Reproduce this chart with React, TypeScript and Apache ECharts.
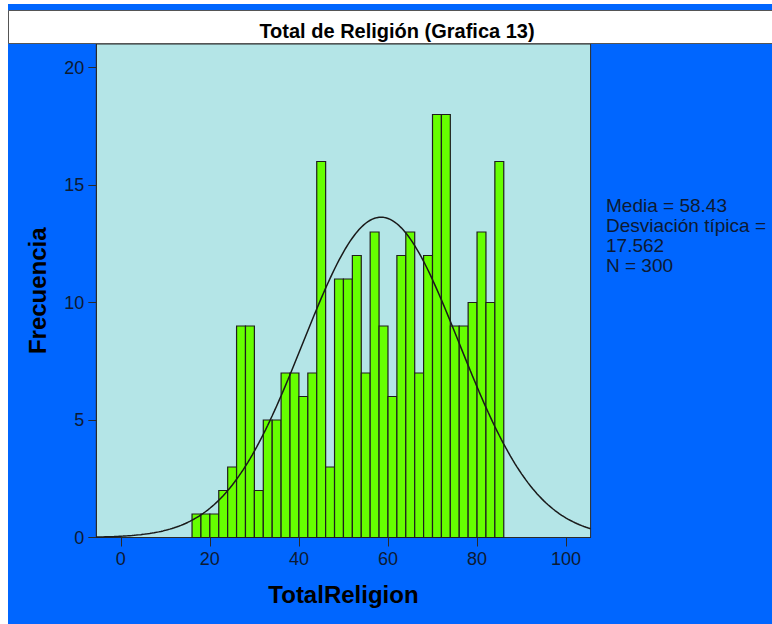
import React, { useEffect, useRef } from "react";
import * as echarts from "echarts";

const chartTitle = "Total de Religión (Grafica 13)";
const xAxisName = "TotalReligion";
const yAxisName = "Frecuencia";
const binWidth = 2;
const binStarts = [16, 18, 20, 22, 24, 26, 28, 30, 32, 34, 36, 38, 40, 42, 44, 46, 48, 50, 52, 54, 56, 58, 60, 62, 64, 66, 68, 70, 72, 74, 76, 78, 80, 82, 84];
const counts = [1, 1, 1, 2, 3, 9, 9, 2, 5, 5, 7, 7, 6, 7, 16, 3, 11, 11, 12, 7, 13, 9, 6, 12, 13, 7, 12, 18, 18, 9, 9, 10, 13, 10, 16];
const xTickValues = [0, 20, 40, 60, 80, 100];
const yTickValues = [0, 5, 10, 15, 20];
const statMean = 58.43;
const statSd = 17.562;
const statN = 300;
const statLines = ["Media = 58.43", "Desviación típica =", "17.562", "N = 300"];

export default function App() {
  const ref = useRef<HTMLDivElement>(null);
  useEffect(() => {
    if (!ref.current) return;
    const chart = echarts.init(ref.current, undefined, { renderer: "svg" });
    const xMin = -5.5;
    const xMax = 105.5;
    const curve: number[][] = [];
    const scale = (statN * binWidth) / (statSd * Math.sqrt(2 * Math.PI));
    for (let x = xMin; x <= xMax + 1e-9; x += 0.5) {
      const z = (x - statMean) / statSd;
      curve.push([x, scale * Math.exp(-0.5 * z * z)]);
    }
    const font = "Arial, 'Liberation Sans', sans-serif";
    chart.setOption({
      animation: false,
      backgroundColor: "#0066ff",
      grid: {
        left: 88.3,
        right: 181.4,
        top: 40,
        bottom: 86.5,
        show: true,
        backgroundColor: "#b4e5e7",
        borderColor: "#2a2a2a",
        borderWidth: 1,
      },
      xAxis: {
        type: "value",
        min: xMin,
        max: xMax,
        name: xAxisName,
        nameLocation: "middle",
        nameGap: 45,
        nameTextStyle: { fontFamily: font, fontSize: 24, fontWeight: "bold", color: "#000" },
        axisLine: { show: true, onZero: false, lineStyle: { color: "#2a2a2a", width: 1 } },
        axisTick: { show: true, length: 9, lineStyle: { color: "#2a2a2a" }, customValues: xTickValues },
        axisLabel: { customValues: xTickValues, fontFamily: font, fontSize: 18, color: "#0d1a33", margin: 12 },
        splitLine: { show: false },
      },
      yAxis: {
        type: "value",
        min: 0,
        max: 21,
        name: yAxisName,
        nameLocation: "middle",
        nameGap: 47,
        nameRotate: 90,
        nameTextStyle: { fontFamily: font, fontSize: 24, fontWeight: "bold", color: "#000" },
        axisLine: { show: true, onZero: false, lineStyle: { color: "#2a2a2a", width: 1 } },
        axisTick: { show: true, length: 8, lineStyle: { color: "#2a2a2a" }, customValues: yTickValues },
        axisLabel: { customValues: yTickValues, fontFamily: font, fontSize: 18, color: "#0d1a33", margin: 12 },
        splitLine: { show: false },
      },
      graphic: [
        {
          type: "rect",
          shape: { x: 0.5, y: 6.5, width: 770, height: 33 },
          style: { fill: "#ffffff", stroke: "#555", lineWidth: 1 },
          z: 10,
        },
        {
          type: "text",
          x: 389,
          y: 26.5,
          style: {
            text: chartTitle,
            fontFamily: font,
            fontSize: 20,
            fontWeight: "bold",
            fill: "#000",
            textAlign: "center",
            textVerticalAlign: "middle",
          },
          z: 11,
        },
        {
          type: "text",
          x: 598,
          y: 191,
          style: {
            text: statLines.join("\n"),
            fontFamily: font,
            fontSize: 19,
            lineHeight: 20,
            fill: "#0d1a33",
            textAlign: "left",
            textVerticalAlign: "top",
          },
          z: 11,
        },
      ],
      series: [
        {
          type: "custom",
          data: binStarts.map((s, i) => [s, s + binWidth, counts[i]]),
          encode: { x: [0, 1], y: 2 },
          renderItem: (params: any, api: any) => {
            const x0 = api.value(0);
            const x1 = api.value(1);
            const c = api.value(2);
            const p0 = api.coord([x0, c]);
            const p1 = api.coord([x1, 0]);
            return {
              type: "rect",
              shape: { x: p0[0], y: p0[1], width: p1[0] - p0[0], height: p1[1] - p0[1] },
              style: { fill: "#66ff00", stroke: "#1e1e1e", lineWidth: 1.2 },
            };
          },
          z: 2,
        },
        {
          type: "line",
          data: curve,
          showSymbol: false,
          symbol: "none",
          lineStyle: { color: "#1a1a1a", width: 1.5 },
          z: 3,
        },
      ],
    });
    return () => chart.dispose();
  }, []);
  return (
    <div
      ref={ref}
      style={{ position: "fixed", left: 8, top: 4, width: 764, height: 620 }}
    />
  );
}
